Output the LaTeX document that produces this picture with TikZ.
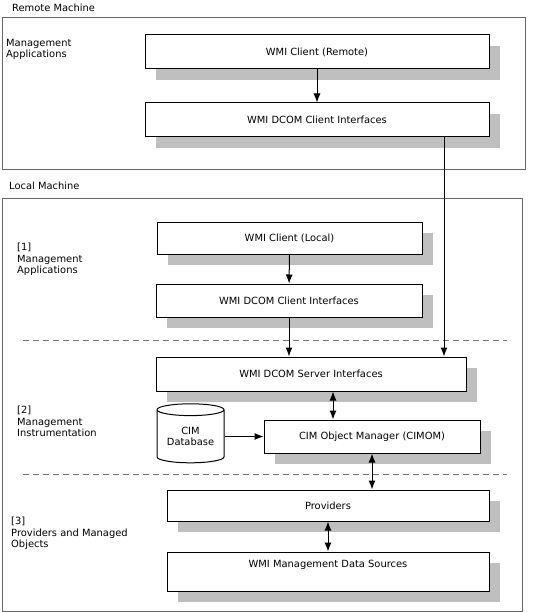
\documentclass[tikz,border=0pt]{standalone}
\usepackage{fontspec}
\setmainfont{DejaVu Sans}
\usetikzlibrary{arrows.meta,shadows,shapes.geometric}

\begin{document}
\begin{tikzpicture}[x=1pt,y=-1pt,font=\fontsize{9.9}{11.5}\selectfont,
		box/.style={draw, fill=white, inner sep=0pt, line width=1pt,
			drop shadow={shadow xshift=11pt, shadow yshift=-11pt, fill=black!25, opacity=1}},
		frame/.style={draw=black!60, line width=1pt},
		layer/.style={draw=black!55, line width=1pt, dash pattern=on 6pt off 4pt},
		caption/.style={anchor=north west, inner sep=0pt, align=left}]
	\useasboundingbox (0,0) rectangle (533,612);

	% machines
	\draw[frame] (2,18) rectangle (525,170);
	\draw[frame] (2,199) rectangle (522,611);
	\node (remote)[anchor=west, inner sep=0pt] at (12,8) {Remote Machine};
	\node (local)[anchor=west, inner sep=0pt] at (9,186) {Local Machine};

	% layers
	\draw[layer] (23,340) -- (507,340);
	\draw[layer] (23,474) -- (507,474);

	\node (rapps)[caption] at (6,39) {Management\\Applications};
	\node (lapps)[caption] at (17,243) {[1]\\Management\\Applications};
	\node (instr)[caption] at (17,406) {[2]\\Management\\Instrumentation};
	\node (provs)[caption] at (11,517) {[3]\\Providers and Managed\\Objects};

	\begin{scope}[every node/.style={box}]
		\node (rclient)[minimum width=344, minimum height=34] at (317,52) {WMI Client (Remote)};
		\node (rdcom)[minimum width=344, minimum height=34] at (317,120) {WMI DCOM Client Interfaces};
		\node (lclient)[minimum width=265, minimum height=32] at (289.5,238) {WMI Client (Local)};
		\node (ldcom)[minimum width=266, minimum height=33] at (289,300.5) {WMI DCOM Client Interfaces};
		\node (server)[minimum width=310, minimum height=34] at (311,374) {WMI DCOM Server Interfaces};
		\node (cimom)[minimum width=216, minimum height=33] at (372,436.5) {CIM Object Manager (CIMOM)};
		\node (prov)[minimum width=322, minimum height=31] at (328,505.5) {Providers};
		\node (data)[minimum width=322, text height=15.5pt, text depth=23.5pt] at (328,571.5) {WMI Management Data Sources};
	\end{scope}

	\node (db)[draw, fill=white, line width=1pt, cylinder, shape border rotate=90, aspect=0.25,
		minimum width=67, minimum height=59, inner sep=0pt, align=center] at (190.5,436.5) {CIM\\Database};

	\coordinate (link) at (444,0);
	\coordinate (tap) at (333,0);

	\begin{scope}[every edge/.style={draw, line width=1pt}, >={Latex[length=9pt, width=7pt]}]
		\path [->] (rclient) edge (rdcom);
		\path [->] (lclient) edge (ldcom);
		\path [->] (ldcom.south) edge (server.north -| ldcom.south);
		\path [->] (rdcom.south -| link) edge (server.north -| link);
		\path [->] (db) edge (cimom);
		\path [<->] (server.south -| tap) edge (cimom.north -| tap);
		\path [<->] (cimom.south) edge (prov.north -| cimom.south);
		\path [<->] (prov) edge (data);
	\end{scope}
\end{tikzpicture}
\end{document}
